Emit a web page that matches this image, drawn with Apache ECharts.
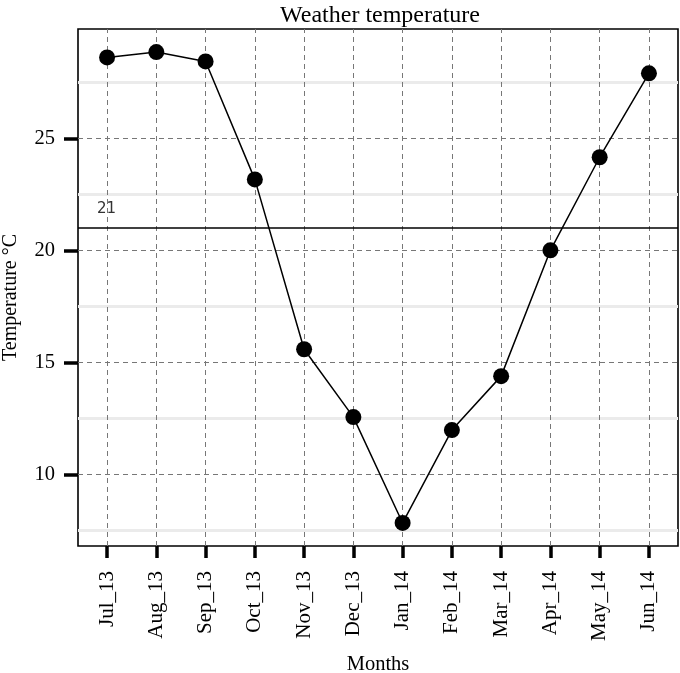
<!DOCTYPE html>
<html>
<head>
<meta charset="utf-8">
<script src="https://cdn.jsdelivr.net/npm/echarts@6/dist/echarts.min.js"></script>
<style>
  html, body { margin: 0; padding: 0; background: #fff; }
  #chart { width: 680px; height: 673px; }
</style>
</head>
<body>
<div id="chart"></div>
<script>
// months along the bottom, one temperature reading each
var months = ['Jul_13','Aug_13','Sep_13','Oct_13','Nov_13','Dec_13','Jan_14','Feb_14','Mar_14','Apr_14','May_14','Jun_14'];
var temps = [28.63, 28.87, 28.45, 23.18, 15.59, 12.56, 7.83, 11.98, 14.39, 20.01, 24.17, 27.92];
var yTicks = [10, 15, 20, 25];
var yMinor = [7.5, 12.5, 17.5, 22.5, 27.5];
var refValue = 21;

var serif = 'Liberation Serif';
var idx = months.map(function (m, i) { return i; });

var option = {
    backgroundColor: '#fff',
    animation: false,
    title: {
        text: 'Weather temperature',
        left: 375,
        top: -1,
        textAlign: 'center',
        textStyle: { fontFamily: serif, fontSize: 24, fontWeight: 'normal', color: '#000' }
    },
    grid: {
        left: 78, right: 2, top: 29, bottom: 127,
        outerBoundsMode: 'none',
        containLabel: false,
        show: true, borderColor: '#000', borderWidth: 1.6, backgroundColor: 'transparent'
    },
    xAxis: {
        type: 'value',
        min: -0.59,
        max: 11.59,
        name: 'Months',
        nameLocation: 'middle',
        nameGap: 108,
        nameTextStyle: { fontFamily: serif, fontSize: 20.5, color: '#000' },
        axisLine: { show: false, onZero: false },
        splitLine: { show: false },
        axisTick: { show: true, length: 12, customValues: idx, lineStyle: { color: '#000', width: 3.5 } },
        axisLabel: {
            customValues: idx,
            rotate: 90,
            margin: 25,
            fontFamily: serif, fontSize: 21, color: '#000',
            formatter: function (v) { return months[Math.round(v)]; }
        }
    },
    yAxis: {
        type: 'value',
        min: 6.8,
        max: 29.9,
        name: 'Temperature °C',
        nameLocation: 'middle',
        nameGap: 57,
        nameTextStyle: { fontFamily: serif, fontSize: 20, color: '#000', padding: [0, 20, 0, 0] },
        axisLine: { show: false, onZero: false },
        splitLine: { show: false },
        axisTick: { show: true, length: 14, customValues: yTicks, lineStyle: { color: '#000', width: 3.5 } },
        axisLabel: { customValues: yTicks, margin: 23, fontFamily: serif, fontSize: 20.5, color: '#000' }
    },
    series: [
        {
            name: 'minor',
            type: 'line',
            data: [],
            z: 1,
            silent: true,
            markLine: {
                silent: true, symbol: 'none', label: { show: false },
                lineStyle: { color: '#ebebeb', width: 3, type: 'solid' },
                data: yMinor.map(function (v) { return { yAxis: v }; })
            }
        },
        {
            name: 'major',
            type: 'line',
            data: [],
            z: 2,
            silent: true,
            markLine: {
                silent: true, symbol: 'none', label: { show: false },
                lineStyle: { color: '#777', width: 1, type: [5, 4] },
                data: yTicks.map(function (v) { return { yAxis: v }; })
                    .concat(idx.map(function (i) { return { xAxis: i }; }))
            }
        },
        {
            name: 'ref',
            type: 'line',
            data: [],
            z: 3,
            silent: true,
            markLine: {
                silent: true, symbol: 'none',
                lineStyle: { color: '#000', width: 1.5, type: 'solid' },
                label: {
                    show: true, position: 'insideStartTop', distance: [19, 12],
                    formatter: String(refValue),
                    fontFamily: 'DejaVu Sans', fontSize: 15, color: '#333'
                },
                data: [{ yAxis: refValue }]
            }
        },
        {
            name: 'Temperature',
            type: 'line',
            z: 5,
            data: temps.map(function (t, i) { return [i, t]; }),
            symbol: 'circle',
            symbolSize: 16,
            itemStyle: { color: '#000' },
            lineStyle: { color: '#000', width: 1.5 }
        }
    ]
};

var myChart = echarts.init(document.getElementById('chart'));
myChart.setOption(option);
</script>
</body>
</html>
